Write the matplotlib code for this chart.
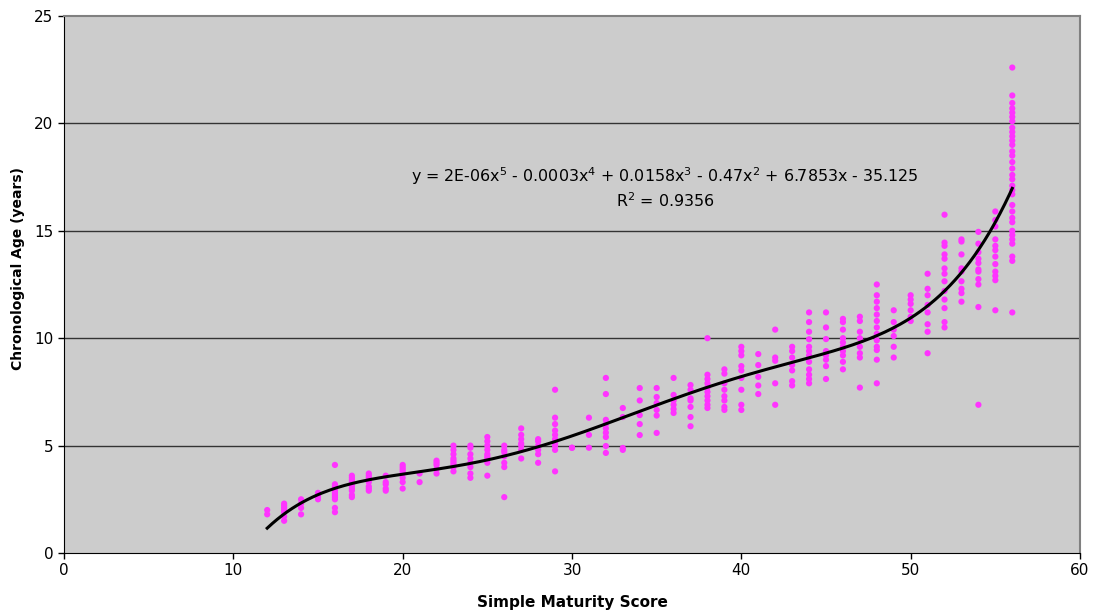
import numpy as np
import matplotlib
matplotlib.use("Agg")
import matplotlib.pyplot as plt

# Simple maturity score -> observed chronological ages (years)
ages_by_score = {
    12: [1.8, 2.0],
    13: [1.5, 1.7, 1.9, 2.0, 2.1, 2.2, 2.3],
    14: [1.8, 2.1, 2.3, 2.5],
    15: [2.5, 2.6, 2.7, 2.8],
    16: [1.9, 2.1, 2.5, 2.6, 2.7, 2.8, 2.9, 3.0, 3.1, 3.2, 4.1],
    17: [2.6, 2.7, 2.9, 3.0, 3.1, 3.2, 3.3, 3.4, 3.5, 3.6],
    18: [2.9, 3.0, 3.1, 3.3, 3.4, 3.5, 3.6, 3.7],
    19: [2.9, 3.0, 3.2, 3.3, 3.6],
    20: [3.0, 3.3, 3.5, 3.7, 3.8, 3.9, 4.0, 4.1],
    21: [3.3, 3.7],
    22: [3.7, 3.9, 4.1, 4.2, 4.3],
    23: [3.8, 4.0, 4.1, 4.2, 4.3, 4.4, 4.6, 4.8, 5.0],
    24: [3.5, 3.7, 4.0, 4.2, 4.4, 4.6, 4.9, 5.0],
    25: [3.6, 4.2, 4.4, 4.5, 4.6, 4.8, 5.0, 5.2, 5.4],
    26: [2.6, 4.0, 4.2, 4.5, 4.7, 4.8, 5.0],
    27: [4.4, 4.8, 5.0, 5.1, 5.3, 5.5, 5.8],
    28: [4.2, 4.6, 4.8, 5.0, 5.2, 5.3],
    29: [3.8, 4.8, 5.0, 5.1, 5.3, 5.5, 5.7, 6.0, 6.3, 7.6],
    30: [4.9, 4.9],
    31: [4.9, 5.5, 6.3],
    32: [4.66, 4.98, 5.4, 5.6, 5.8, 6.0, 6.2, 7.4, 8.15],
    33: [4.8, 4.89, 6.33, 6.75],
    34: [5.49, 6.0, 6.42, 7.1, 7.68],
    35: [5.59, 6.4, 6.66, 6.98, 7.26, 7.68],
    36: [6.52, 6.7, 6.9, 7.1, 7.36, 8.15],
    37: [5.9, 6.33, 6.8, 7.1, 7.2, 7.6, 7.82],
    38: [6.75, 6.9, 7.1, 7.3, 7.5, 7.7, 7.9, 8.1, 8.3, 10.0],
    39: [6.66, 6.8, 7.1, 7.3, 7.6, 7.9, 8.35, 8.55],
    40: [6.66, 6.9, 7.6, 8.15, 8.5, 8.7, 9.2, 9.4, 9.6],
    41: [7.4, 7.8, 8.2, 8.75, 9.26],
    42: [6.9, 7.9, 8.95, 9.1, 10.4],
    43: [7.8, 8.0, 8.5, 8.75, 9.1, 9.4, 9.6],
    44: [7.9, 8.1, 8.3, 8.55, 8.9, 9.2, 9.4, 9.6, 9.95, 10.3, 10.75, 11.2],
    45: [8.1, 8.7, 9.0, 9.2, 9.4, 9.96, 10.5, 11.2],
    46: [8.55, 8.9, 9.2, 9.4, 9.6, 9.8, 10.0, 10.4, 10.75, 10.9],
    47: [7.7, 9.1, 9.3, 9.6, 10.0, 10.3, 10.8, 11.0],
    48: [7.9, 9.0, 9.45, 9.6, 9.9, 10.2, 10.5, 10.8, 11.1, 11.4, 11.7, 12.0, 12.5],
    49: [9.1, 9.6, 10.1, 10.4, 10.75, 11.3],
    50: [10.8, 11.0, 11.3, 11.6, 11.8, 12.0],
    51: [9.3, 10.3, 10.65, 11.2, 11.55, 12.0, 12.3, 13.0],
    52: [10.5, 10.75, 11.4, 11.8, 12.2, 12.65, 13.0, 13.25, 13.7, 13.9, 14.3, 14.45, 15.75],
    53: [11.7, 12.1, 12.3, 12.65, 13.1, 13.25, 13.9, 14.5, 14.6],
    54: [6.9, 11.45, 12.5, 12.75, 13.1, 13.2, 13.5, 13.7, 14.0, 14.4, 14.95],
    55: [11.3, 12.7, 12.9, 13.1, 13.45, 13.8, 14.1, 14.3, 14.6, 15.2, 15.5, 15.9],
    56: [11.2, 13.6, 13.8, 14.4, 14.6, 14.8, 15.0, 15.4, 15.6, 15.9, 16.2, 16.7,
         16.9, 17.1, 17.4, 17.6, 17.9, 18.2, 18.5, 18.7, 19.0, 19.2, 19.4, 19.6,
         19.8, 20.1, 20.3, 20.5, 20.7, 20.95, 21.3, 22.6],
}

x_ticks = [0, 10, 20, 30, 40, 50, 60]
y_ticks = [0, 5, 10, 15, 20, 25]
equation_text = "y = 2E-06x$^5$ - 0.0003x$^4$ + 0.0158x$^3$ - 0.47x$^2$ + 6.7853x - 35.125"
r2_text = "R$^2$ = 0.9356"

xs = np.concatenate([[k] * len(v) for k, v in ages_by_score.items()]).astype(float)
ys = np.concatenate([v for v in ages_by_score.values()]).astype(float)

# 5th-order polynomial trendline fitted to the data
coef = np.polyfit(xs, ys, 5)
xf = np.linspace(xs.min(), xs.max(), 300)
yf = np.polyval(coef, xf)

plt.rcParams['font.family'] = ['DejaVu Sans']
plt.rcParams['mathtext.default'] = 'regular'

fig = plt.figure(figsize=(10.96, 6.13), dpi=100)
ax = fig.add_axes([64/1096, 1 - 553/613, (1080 - 64)/1096, (553 - 16)/613])
ax.set_facecolor('#cccccc')

for yv in y_ticks[1:-1]:
    ax.axhline(yv, color='#333333', lw=1.0, zorder=1)

ax.scatter(xs, ys, s=20, color='#ff33ff', edgecolors='none', zorder=2)
ax.plot(xf, yf, color='black', lw=2.2, zorder=3)

ax.set_xlim(0, 60)
ax.set_ylim(0, 25)
ax.set_xticks(x_ticks)
ax.set_yticks(y_ticks)
ax.tick_params(axis='both', labelsize=11, length=4, width=1, color='black', direction='out')
for s in ['top', 'right']:
    ax.spines[s].set_color('#808080')
    ax.spines[s].set_linewidth(1.5)
for s in ['left', 'bottom']:
    ax.spines[s].set_color('black')

ax.set_xlabel('Simple Maturity Score', fontsize=11, fontweight='bold', va='center', ha='center')
ax.set_ylabel('Chronological Age (years)', fontsize=10, fontweight='bold', va='center', ha='center')
ax.xaxis.set_label_coords(0.5, -0.093)
ax.yaxis.set_label_coords(-0.045, 0.529)

ax.text(35.5, 17.55, equation_text, fontsize=11.4, ha='center', va='center', zorder=4)
ax.text(35.5, 16.4, r2_text, fontsize=11.4, ha='center', va='center', zorder=4)

fig.savefig('out.png', dpi=100)
